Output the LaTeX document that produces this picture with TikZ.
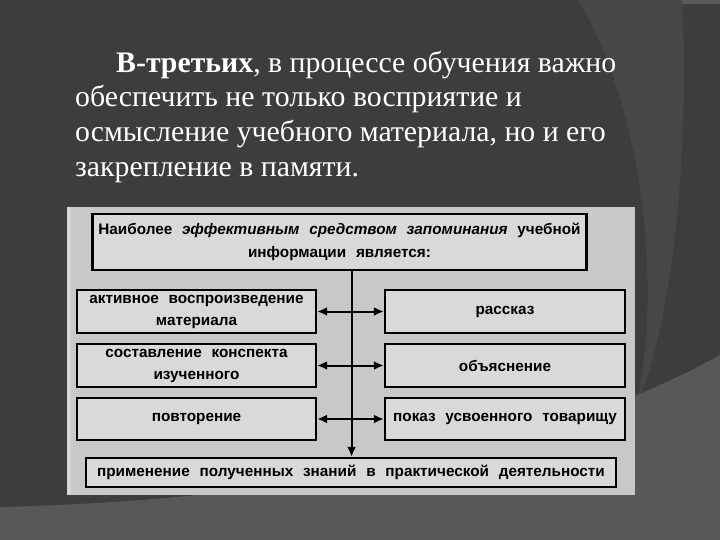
\documentclass[tikz,border=0pt]{standalone}
\usepackage{fontspec}
\setmainfont{Liberation Serif}
\newfontfamily\diagfont[WordSpace=2.3]{Liberation Sans}
\usetikzlibrary{arrows.meta,shadows}
\definecolor{bgdark}{HTML}{3D3D3D}
\definecolor{bgmid}{HTML}{474747}
\definecolor{bglight}{HTML}{585858}
\definecolor{panel}{HTML}{C8C8C8}
\definecolor{boxfill}{HTML}{D9D9D9}
\tikzset{
  titleline/.style={anchor=base west, inner sep=0pt, text=white, font=\fontsize{29.8}{34}\selectfont},
  dbox/.style={draw=black, line width=2.4pt, fill=boxfill, align=center, inner sep=1pt,
    font=\diagfont\bfseries\fontsize{15.3}{22}\selectfont,
    drop shadow={shadow xshift=1.3pt, shadow yshift=-1.3pt, fill=black!55, opacity=0.7}},
  conn/.style={line width=2pt, draw=black},
  tip/.style={-{Latex[length=10pt,width=9pt]}},
  dtip/.style={{Latex[length=10pt,width=9pt]}-{Latex[length=10pt,width=9pt]}}
}
\begin{document}
\begin{tikzpicture}[x=1pt,y=-1pt]
\useasboundingbox (0,0) rectangle (720,540);
% background
\fill[bgdark] (0,0) rectangle (720,540);
\fill[bgmid] (578,0) .. controls (645,110) and (662,300) .. (636,405)
  .. controls (672,330) and (690,150) .. (682,0) -- cycle;
\fill[bgmid!90!white] (682,0) rectangle (720,4);
\fill[bglight] (0,507) .. controls (300,500) and (560,445) .. (720,355) -- (720,540) -- (0,540) -- cycle;
% title text
\node[titleline] (t1) at (116,72.3) {\textbf{В-третьих}, в процессе обучения важно};
\node[titleline] (t2) at (75,106.5) {обеспечить не только восприятие и};
\node[titleline] (t3) at (75,141.5) {осмысление учебного материала, но и его};
\node[titleline] (t4) at (75,176.5) {закрепление в памяти.};
% panel
\fill[panel] (67,207) rectangle (635,495);
\fill[panel!70!white] (67,207) rectangle (71,495);
% boxes
\node[dbox, minimum width=494pt, minimum height=56pt, font=\diagfont\bfseries\fontsize{15.3}{23.7}\selectfont] (top) at (339.5,242)
  {Наиболее \textit{эффективным средством запоминания} учебной\\ информации является:};
\node[dbox, minimum width=239pt, minimum height=43pt] (l1) at (196.5,311.5) {активное воспроизведение\\ материала};
\node[dbox, minimum width=239pt, minimum height=43pt] (l2) at (196.5,365.5) {составление конспекта\\ изученного};
\node[dbox, minimum width=239pt, minimum height=42pt] (l3) at (196.5,419) {повторение};
\node[dbox, minimum width=240pt, minimum height=43pt] (r1) at (505,311.5) {рассказ};
\node[dbox, minimum width=240pt, minimum height=43pt] (r2) at (505,365.5) {объяснение};
\node[dbox, minimum width=240pt, minimum height=42pt] (r3) at (505,419) {показ усвоенного товарищу};
\node[dbox, minimum width=530pt, minimum height=29pt] (bot) at (351,472.5) {применение полученных знаний в практической деятельности};
% connectors
\coordinate (vx) at (351.6,0);
\draw[conn, tip] (top.south -| vx) -- (bot.north -| vx);
\draw[conn, dtip] (l1.east) -- (r1.west);
\draw[conn, dtip] (l2.east) -- (r2.west);
\draw[conn, dtip] (l3.east) -- (r3.west);
\end{tikzpicture}
\end{document}
